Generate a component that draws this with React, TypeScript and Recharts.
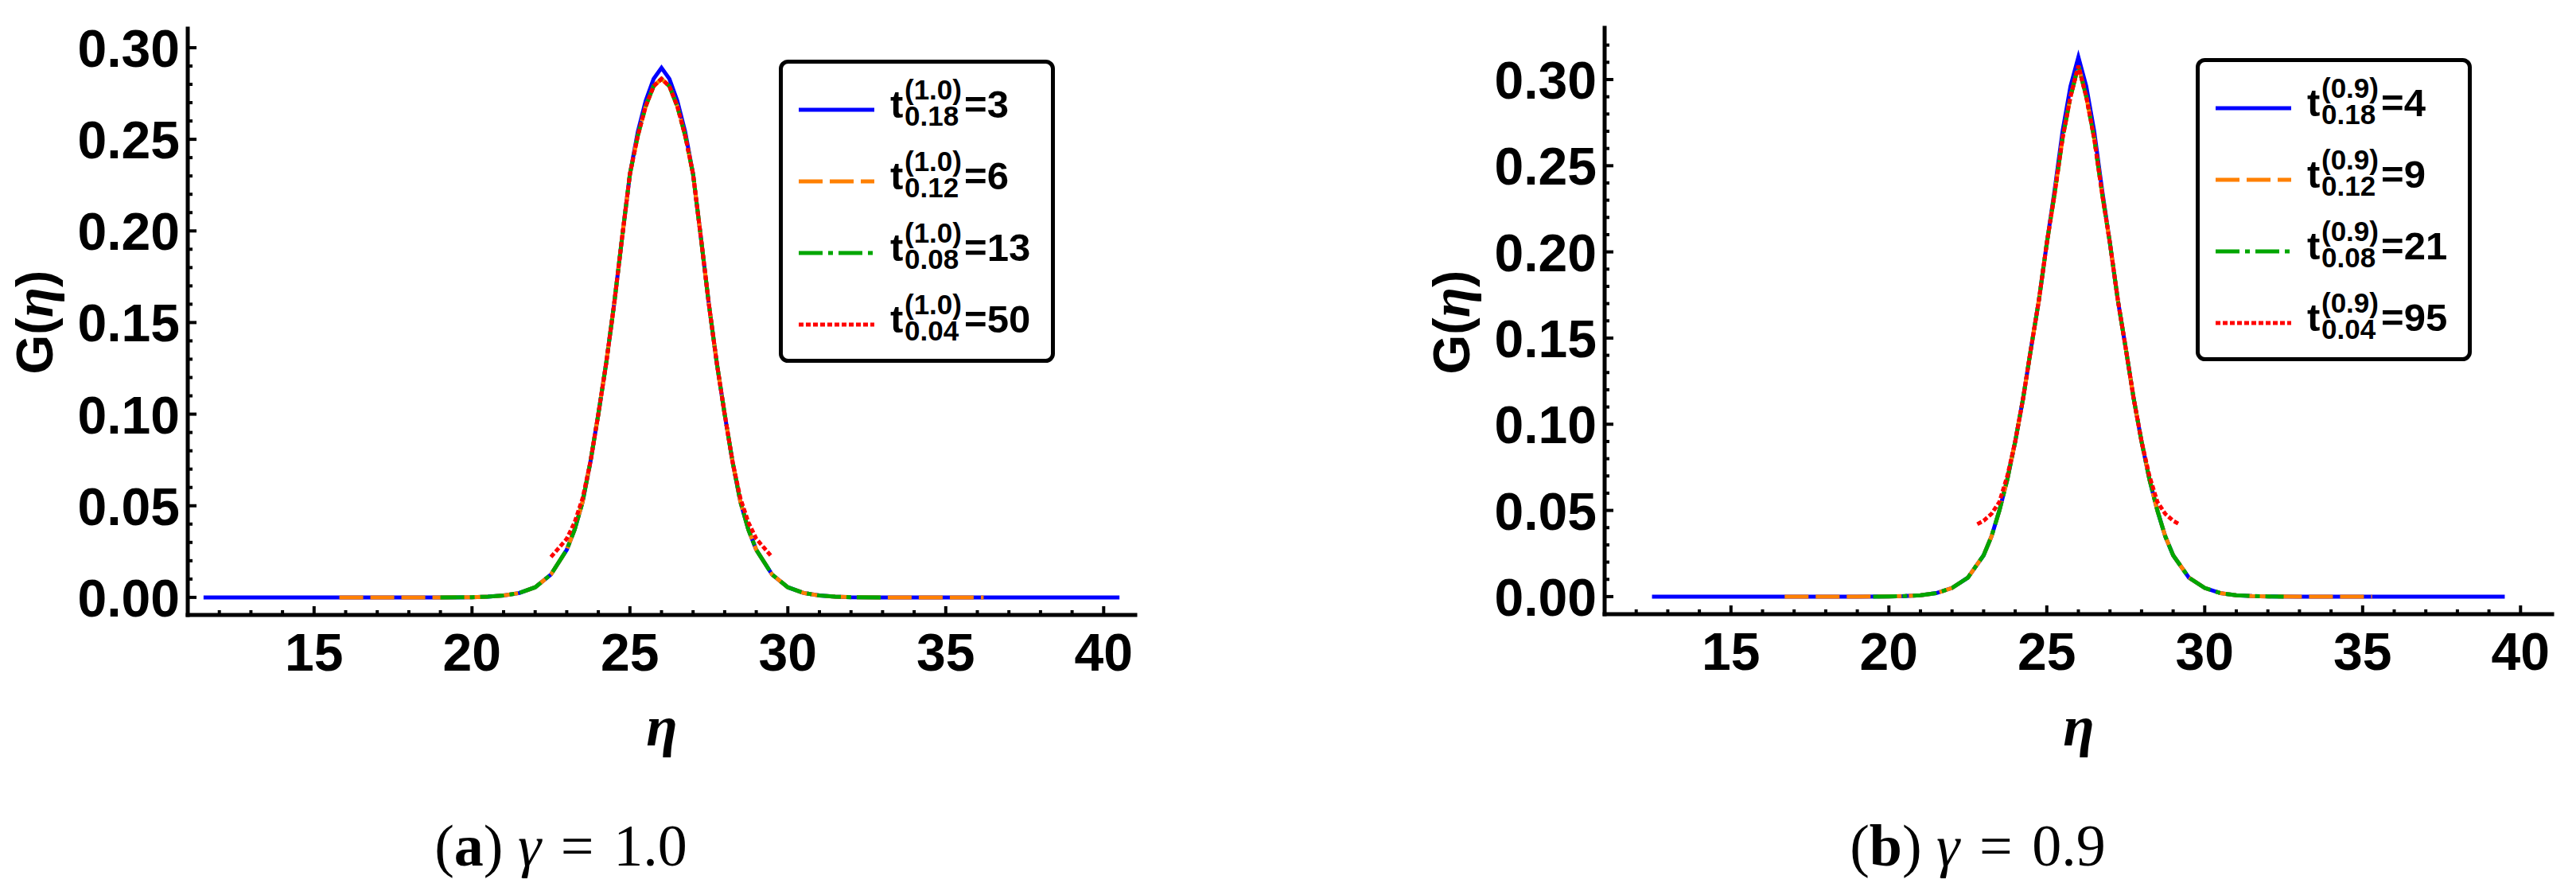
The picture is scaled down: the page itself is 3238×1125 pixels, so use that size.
import React from "react";
import { LineChart, Line, XAxis, YAxis, Legend } from "recharts";

const SANS = "'Liberation Sans', Arial, sans-serif";
const SERIF = "'Liberation Serif', 'Times New Roman', serif";

// shared eta sampling of the central part (both panels)
const etaCore = [20, 20.5, 21, 21.5, 22, 22.5, 23, 23.25, 23.5, 23.75, 24, 24.25, 24.5, 24.75, 25, 25.25, 25.5, 25.75, 26, 26.25, 26.5, 26.75, 27, 27.25, 27.5, 27.75, 28, 28.25, 28.5, 28.75, 29, 29.5, 30, 30.5, 31, 31.5, 32];

// ---------- panel (a): gamma = 1.0 ----------
const gCoreBlueA = [0.0001, 0.0004, 0.001, 0.0024, 0.0055, 0.0125, 0.026, 0.037, 0.052, 0.074, 0.1, 0.128, 0.16, 0.196, 0.231, 0.254, 0.271, 0.283, 0.289, 0.283, 0.271, 0.254, 0.231, 0.196, 0.16, 0.128, 0.1, 0.074, 0.052, 0.037, 0.026, 0.0125, 0.0055, 0.0024, 0.001, 0.0004, 0.0001];
const gCoreA = [0.0001, 0.0004, 0.001, 0.0024, 0.0055, 0.0125, 0.026, 0.037, 0.052, 0.074, 0.1, 0.128, 0.16, 0.196, 0.231, 0.252, 0.268, 0.279, 0.283, 0.279, 0.268, 0.252, 0.231, 0.196, 0.16, 0.128, 0.1, 0.074, 0.052, 0.037, 0.026, 0.0125, 0.0055, 0.0024, 0.001, 0.0004, 0.0001];

const etaBlueA = [11.5, 16, 19, ...etaCore, 33, 36, 40.5];
const gBlueA = [0, 0, 0, ...gCoreBlueA, 0, 0, 0];
const etaOrangeA = [15.8, 19, ...etaCore, 33, 36.2];
const gOrangeA = [0, 0, ...gCoreA, 0, 0];
const etaGreenA = [19, ...etaCore, 33];
const gGreenA = [0, ...gCoreA, 0];
const etaRedA = [22.5, 22.75, 23, 23.25, 23.5, 23.75, 24, 24.25, 24.5, 24.75, 25, 25.25, 25.5, 25.75, 26, 26.25, 26.5, 26.75, 27, 27.25, 27.5, 27.75, 28, 28.25, 28.5, 28.75, 29, 29.25, 29.5];
const gRedA = [0.022, 0.027, 0.032, 0.041, 0.054, 0.074, 0.1, 0.128, 0.16, 0.196, 0.231, 0.252, 0.268, 0.279, 0.283, 0.279, 0.268, 0.252, 0.231, 0.196, 0.16, 0.128, 0.1, 0.074, 0.054, 0.041, 0.032, 0.027, 0.022];

// ---------- panel (b): gamma = 0.9 ----------
const gCoreBlueB = [0.0001, 0.0003, 0.0008, 0.002, 0.005, 0.011, 0.024, 0.035, 0.05, 0.068, 0.09, 0.115, 0.144, 0.172, 0.205, 0.236, 0.27, 0.296, 0.313, 0.296, 0.27, 0.236, 0.205, 0.172, 0.144, 0.115, 0.09, 0.068, 0.05, 0.035, 0.024, 0.011, 0.005, 0.002, 0.0008, 0.0003, 0.0001];
const gCoreB = [0.0001, 0.0003, 0.0008, 0.002, 0.005, 0.011, 0.024, 0.035, 0.05, 0.068, 0.09, 0.115, 0.144, 0.172, 0.205, 0.234, 0.266, 0.29, 0.308, 0.29, 0.266, 0.234, 0.205, 0.172, 0.144, 0.115, 0.09, 0.068, 0.05, 0.035, 0.024, 0.011, 0.005, 0.002, 0.0008, 0.0003, 0.0001];

const etaBlueB = [12.5, 16, 19, ...etaCore, 33, 36, 39.5];
const gBlueB = [0, 0, 0, ...gCoreBlueB, 0, 0, 0];
const etaOrangeB = [16.7, 19, ...etaCore, 33, 35.3];
const gOrangeB = [0, 0, ...gCoreB, 0, 0];
const etaGreenB = [19.5, ...etaCore, 32.5];
const gGreenB = [0, ...gCoreB, 0];
const etaRedB = [22.8, 23, 23.25, 23.5, 23.75, 24, 24.25, 24.5, 24.75, 25, 25.25, 25.5, 25.75, 26, 26.25, 26.5, 26.75, 27, 27.25, 27.5, 27.75, 28, 28.25, 28.5, 28.75, 29, 29.2];
const gRedB = [0.042, 0.044, 0.048, 0.055, 0.07, 0.09, 0.115, 0.144, 0.172, 0.205, 0.234, 0.266, 0.29, 0.308, 0.29, 0.266, 0.234, 0.205, 0.172, 0.144, 0.115, 0.09, 0.07, 0.055, 0.048, 0.044, 0.042];

// legend text
const subscripts = ["0.18", "0.12", "0.08", "0.04"];
const valuesA = ["3", "6", "13", "50"];
const valuesB = ["4", "9", "21", "95"];

// ticks
const xMajor = [15, 20, 25, 30, 35, 40];
const yMajorA = [0, 0.05, 0.1, 0.15, 0.2, 0.25, 0.3];
const yMajorB = [0, 0.05, 0.1, 0.15, 0.2, 0.25, 0.3];

const xMinor: number[] = [];
for (let i = 12; i <= 40; i++) xMinor.push(i);
const hundredths = (n: number) => {
  const out: number[] = [];
  for (let i = 0; i <= n; i++) out.push(i / 100);
  return out;
};

const COLORS = ["#0000ff", "#ff8000", "#00a600", "#ff0000"];
const DASHES = [undefined, "30 9", "30 7 6 7", "6 3"];

const toPts = (eta: number[], g: number[]) => eta.map((x, i) => ({ x, y: g[i] }));
const isIn = (v: number, arr: number[]) => arr.some((m) => Math.abs(m - v) < 1e-6);

function FrameTick(props: any) {
  const { x, y, payload, side, majors, label } = props;
  const v = payload.value as number;
  const major = isIn(v, majors);
  const len = major ? 11 : 6;
  const st = { stroke: "#000", strokeWidth: 4 };
  if (side === "b") {
    return (
      <g>
        <line x1={x} y1={y} x2={x} y2={y - len} {...st} />
        {label && major && (
          <text x={x} y={y + 70} textAnchor="middle" fontFamily={SANS} fontWeight={700} fontSize={66} fill="#000">
            {v}
          </text>
        )}
      </g>
    );
  }
  if (side === "t") return <line x1={x} y1={y} x2={x} y2={y + len} {...st} />;
  if (side === "l") {
    return (
      <g>
        <line x1={x} y1={y} x2={x + len} y2={y} {...st} />
        {label && major && (
          <text x={x - 10} y={y + 24} textAnchor="end" fontFamily={SANS} fontWeight={700} fontSize={66} fill="#000">
            {v.toFixed(2)}
          </text>
        )}
      </g>
    );
  }
  return <line x1={x} y1={y} x2={x - len} y2={y} {...st} />;
}

function LegendBox({ sup, values }: { sup: string; values: string[] }) {
  const rows = [63, 153, 243, 333];
  return (
    <svg width={347} height={381} style={{ display: "block" }}>
      <rect x={2.5} y={2.5} width={342} height={376} rx={9} fill="#fff" stroke="#000" strokeWidth={5} />
      {rows.map((L, i) => (
        <g key={i}>
          <line x1={25} x2={120} y1={L} y2={L} stroke={COLORS[i]} strokeWidth={5} strokeDasharray={DASHES[i]} />
          <text fontFamily={SANS} fontWeight={700} fill="#000">
            <tspan x={140} y={L + 10} fontSize={49}>t</tspan>
            <tspan x={158} y={L - 13} fontSize={35}>{sup}</tspan>
            <tspan x={158} y={L + 20} fontSize={35}>{subscripts[i]}</tspan>
            <tspan x={233} y={L + 10} fontSize={49}>={values[i]}</tspan>
          </text>
        </g>
      ))}
    </svg>
  );
}

type PanelProps = {
  left: number;
  frameTop: number;
  frameBottom: number;
  yDomain: [number, number];
  yMinorCount: number;
  yMajor: number[];
  series: { x: number; y: number }[][];
  sup: string;
  values: string[];
  tag: string;
  gamma: string;
  legendTop: number;
};

function Panel(p: PanelProps) {
  const W = 1457;
  const H = 1125;
  const yMinor = hundredths(p.yMinorCount);
  const axisLine = { stroke: "#000", strokeWidth: 5, strokeLinecap: "square" as const };
  return (
    <div style={{ position: "absolute", left: p.left, top: 0, width: W, height: H }}>
      <LineChart width={W} height={H} margin={{ top: p.frameTop, right: 30, bottom: 0, left: 0 }}>
        <XAxis
          xAxisId="b"
          type="number"
          dataKey="x"
          domain={[11, 41]}
          allowDataOverflow
          ticks={xMinor}
          interval={0}
          height={H - p.frameBottom}
          tickSize={0}
          tickMargin={0}
          tickLine={false}
          axisLine={axisLine}
          tick={(tp: any) => <FrameTick {...tp} side="b" majors={xMajor} label />}
        />
        <XAxis
          xAxisId="t"
          orientation="top"
          type="number"
          dataKey="x"
          domain={[11, 41]}
          allowDataOverflow
          ticks={xMinor}
          interval={0}
          height={0}
          tickSize={0}
          tickMargin={0}
          tickLine={false}
          axisLine={axisLine}
          tick={(tp: any) => <FrameTick {...tp} side="t" majors={xMajor} />}
        />
        <YAxis
          yAxisId="l"
          type="number"
          domain={p.yDomain}
          allowDataOverflow
          ticks={yMinor}
          interval={0}
          width={236}
          tickSize={0}
          tickMargin={0}
          tickLine={false}
          axisLine={axisLine}
          tick={(tp: any) => <FrameTick {...tp} side="l" majors={p.yMajor} label />}
        />
        <YAxis
          yAxisId="r"
          orientation="right"
          type="number"
          domain={p.yDomain}
          allowDataOverflow
          ticks={yMinor}
          interval={0}
          width={0}
          tickSize={0}
          tickMargin={0}
          tickLine={false}
          axisLine={axisLine}
          tick={(tp: any) => <FrameTick {...tp} side="r" majors={p.yMajor} />}
        />
        {p.series.map((d, i) => (
          <Line
            key={i}
            xAxisId="b"
            yAxisId="l"
            data={d}
            dataKey="y"
            type="linear"
            stroke={COLORS[i]}
            strokeWidth={5}
            strokeDasharray={DASHES[i]}
            dot={false}
            activeDot={false}
            isAnimationActive={false}
          />
        ))}
        <Legend
          layout="vertical"
          align="center"
          verticalAlign="middle"
          wrapperStyle={{ position: "absolute", left: 979, top: p.legendTop, width: 347, height: 381 }}
          content={() => <LegendBox sup={p.sup} values={p.values} />}
        />
      </LineChart>
      <svg width={W} height={H} style={{ position: "absolute", left: 0, top: 0, pointerEvents: "none" }}>
        <text
          transform="translate(66, 405) rotate(-90)"
          textAnchor="middle"
          fontFamily={SANS}
          fontWeight={700}
          fontSize={64}
          fill="#000"
        >
          G(<tspan fontFamily={SERIF} fontStyle="italic" fontSize={70}>η</tspan>)
        </text>
        <text x={832} y={937} textAnchor="middle" fontFamily={SERIF} fontStyle="italic" fontWeight={700} fontSize={72} fill="#000">
          η
        </text>
        <text x={705} y={1088} textAnchor="middle" fontFamily={SERIF} fontSize={74} fill="#000">
          (<tspan fontWeight={700}>{p.tag}</tspan>) <tspan fontStyle="italic">γ</tspan>{"\u2004=\u2004"}{p.gamma}
        </text>
      </svg>
    </div>
  );
}

export default function App() {
  const seriesA = [toPts(etaBlueA, gBlueA), toPts(etaOrangeA, gOrangeA), toPts(etaGreenA, gGreenA), toPts(etaRedA, gRedA)];
  const seriesB = [toPts(etaBlueB, gBlueB), toPts(etaOrangeB, gOrangeB), toPts(etaGreenB, gGreenB), toPts(etaRedB, gRedB)];
  return (
    <div style={{ position: "absolute", left: 0, top: 0, width: 3238, height: 1125, background: "#fff", overflow: "hidden" }}>
      <Panel
        left={0}
        frameTop={36}
        frameBottom={773}
        yDomain={[-0.0096, 0.3104]}
        yMinorCount={30}
        yMajor={yMajorA}
        series={seriesA}
        sup="(1.0)"
        values={valuesA}
        tag="a"
        gamma="1.0"
        legendTop={75}
      />
      <Panel
        left={1781}
        frameTop={35}
        frameBottom={772}
        yDomain={[-0.0102, 0.33]}
        yMinorCount={32}
        yMajor={yMajorB}
        series={seriesB}
        sup="(0.9)"
        values={valuesB}
        tag="b"
        gamma="0.9"
        legendTop={73}
      />
    </div>
  );
}
